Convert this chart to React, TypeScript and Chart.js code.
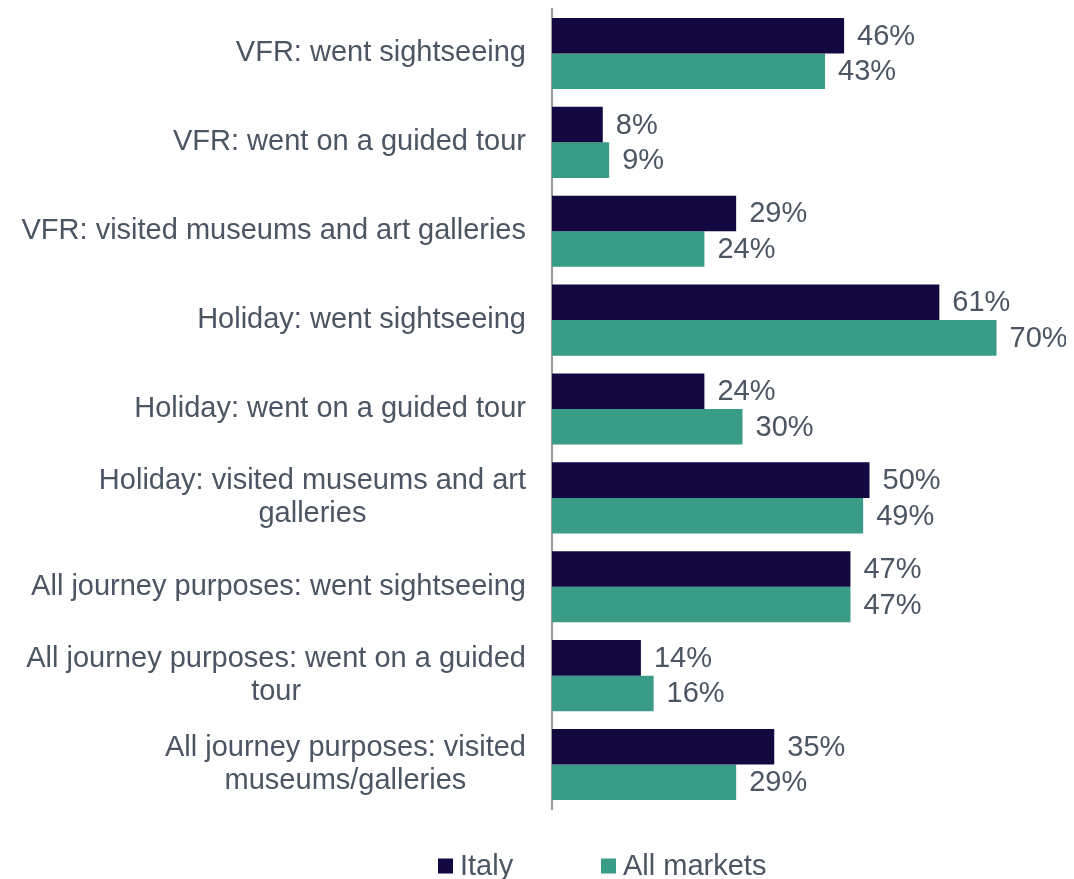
import React, { useEffect, useRef } from "react";
import { Chart, registerables } from "chart.js";

Chart.register(...registerables);

const categories: string[][] = [
  ["VFR: went sightseeing"],
  ["VFR: went on a guided tour"],
  ["VFR: visited museums and art galleries"],
  ["Holiday: went sightseeing"],
  ["Holiday: went on a guided tour"],
  ["Holiday: visited museums and art", "galleries"],
  ["All journey purposes: went sightseeing"],
  ["All journey purposes: went on a guided", "tour"],
  ["All journey purposes: visited", "museums/galleries"],
];
const italy = [46, 8, 29, 61, 24, 50, 47, 14, 35];
const allMarkets = [43, 9, 24, 70, 30, 49, 47, 16, 29];
const seriesNames = ["Italy", "All markets"];
const seriesColors = ["#130840", "#3a9c87"];

const FONT = "Liberation Sans, Arial, sans-serif";
const TEXT = "#4b5563";
const FS = 29;

const labelsPlugin = {
  id: "customLabels",
  afterDraw(chart: any) {
    const ctx = chart.ctx;
    const yScale = chart.scales.y;
    const area = chart.chartArea;
    ctx.save();
    ctx.font = `${FS}px ${FONT}`;
    ctx.fillStyle = TEXT;
    ctx.textBaseline = "middle";
    ctx.textAlign = "center";
    const lh = 33;
    categories.forEach((lines, i) => {
      const cy = yScale.getPixelForValue(i);
      const widths = lines.map((l) => ctx.measureText(l).width);
      const maxW = Math.max(...widths);
      const right = area.left - 26;
      const cx = right - maxW / 2;
      const startY = cy - ((lines.length - 1) * lh) / 2;
      lines.forEach((l, j) => ctx.fillText(l, cx, startY + j * lh));
    });
    // data labels
    ctx.textAlign = "left";
    chart.data.datasets.forEach((ds: any, di: number) => {
      const meta = chart.getDatasetMeta(di);
      meta.data.forEach((bar: any, i: number) => {
        ctx.fillText(ds.data[i] + "%", bar.x + 13, bar.y + 1);
      });
    });
    // legend
    const ly = area.bottom + 57;
    const items = [
      { x: 438 - 8, text: seriesNames[0], color: seriesColors[0] },
      { x: 601 - 8, text: seriesNames[1], color: seriesColors[1] },
    ];
    items.forEach((it) => {
      ctx.fillStyle = it.color;
      ctx.fillRect(it.x, ly - 7.5, 15, 15);
      ctx.fillStyle = TEXT;
      ctx.fillText(it.text, it.x + 22, ly + 1);
    });
    ctx.restore();
  },
};

export default function App() {
  const ref = useRef<HTMLCanvasElement | null>(null);
  useEffect(() => {
    if (!ref.current) return;
    const chart = new Chart(ref.current, {
      type: "bar",
      data: {
        labels: categories.map((c) => c.join(" ")),
        datasets: [
          { label: seriesNames[0], data: italy, backgroundColor: seriesColors[0], categoryPercentage: 0.8, barPercentage: 1.0 },
          { label: seriesNames[1], data: allMarkets, backgroundColor: seriesColors[1], categoryPercentage: 0.8, barPercentage: 1.0 },
        ],
      },
      options: {
        indexAxis: "y",
        animation: false,
        responsive: true,
        maintainAspectRatio: false,
        layout: { padding: { top: 1, bottom: 70, left: 536, right: 6 } },
        plugins: { legend: { display: false }, tooltip: { enabled: false } },
        scales: {
          x: { display: false, min: 0, max: 80 },
          y: {
            ticks: { display: false },
            grid: { display: false },
            border: { display: true, color: "#9a9a9a", width: 2 },
          },
        },
      },
      plugins: [labelsPlugin],
    });
    return () => chart.destroy();
  }, []);
  return (
    <div style={{ width: 1058, height: 871 }}>
      <canvas ref={ref} />
    </div>
  );
}
